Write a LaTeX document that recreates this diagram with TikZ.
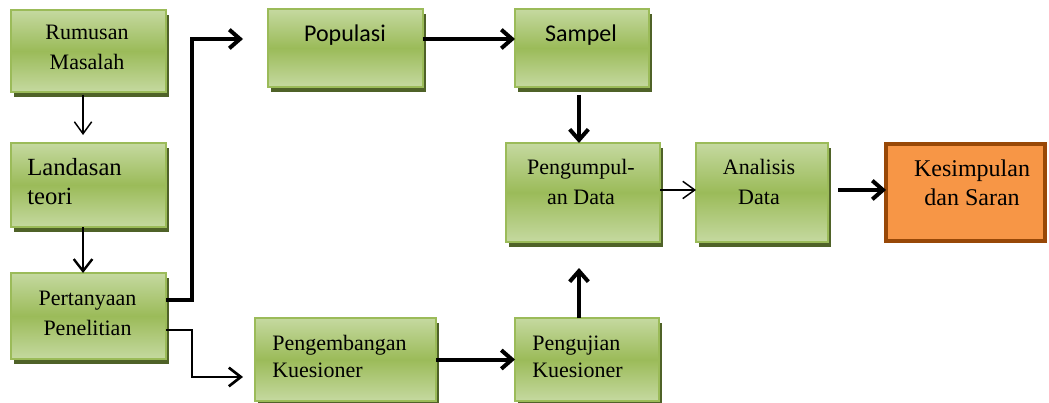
\documentclass[tikz,border=0pt]{standalone}
\usepackage{fontspec}
\setmainfont{Liberation Serif}
\newfontfamily\calfont{Carlito}
\usetikzlibrary{arrows.meta,shadows}
\definecolor{gl}{HTML}{C5D9A0}
\definecolor{gm}{HTML}{9BBB59}
\definecolor{gb}{HTML}{9BBB59}
\definecolor{gs}{HTML}{4F6228}
\definecolor{ofill}{HTML}{F79646}
\definecolor{obord}{HTML}{984807}
\tikzset{
  bx/.style 2 args={minimum width=#1*0.75pt, minimum height=#2*0.75pt},
  gbox/.style={draw=gb, line width=1.5pt, top color=gl, bottom color=gl, middle color=gm,
    inner sep=0pt, outer sep=0pt,
    drop shadow={shadow xshift=2pt, shadow yshift=-3.75pt, fill=gs, opacity=1}},
  obox/.style={draw=obord, fill=ofill, line width=3pt, inner sep=0pt, outer sep=0pt},
  txt/.style={inner sep=0pt, align=center, text=black},
  txtl/.style={inner sep=0pt, align=left, text=black, anchor=west},
  fs/.style={font=\fontsize{16.5pt}{22.5pt}\selectfont},
  thinarr/.style={line width=1.1pt, -{Straight Barb[length=9pt,width=13pt]}},
  medarr/.style={line width=1.8pt, -{Straight Barb[length=9pt,width=14pt]}},
  thickarr/.style={line width=3pt, -{Straight Barb[length=8pt,width=14pt]}},
}
\begin{document}
\begin{tikzpicture}[x=0.75pt,y=-0.75pt]
\useasboundingbox (0,0) rectangle (1049,403);
% boxes
\node[gbox, bx={155}{82}] (rm) at (88.5,51) {};
\node[gbox, bx={155}{84}] (lt) at (88.5,185) {};
\node[gbox, bx={155}{86}] (pp) at (88.5,316) {};
\node[gbox, bx={155}{78}] (po) at (345.5,48) {};
\node[gbox, bx={134}{78}] (sa) at (582,48) {};
\node[gbox, bx={154}{99}] (pd) at (583,192.5) {};
\node[gbox, bx={132}{99}] (an) at (762,192.5) {};
\node[obox, bx={159}{97}] (ks) at (965.5,192.5) {};
\node[gbox, bx={181}{83}] (pk) at (345.5,359.5) {};
\node[gbox, bx={144}{83}] (pj) at (587,359.5) {};
% texts
\node[txt, fs] (trm) at (87,47) {Rumusan\\Masalah};
\node[txtl, font=\fontsize{18.5pt}{21.75pt}\selectfont] (tlt) at (27,181.5) {Landasan\\teori};
\node[txt, fs] (tpp) at (87.5,313) {Pertanyaan\\Penelitian};
\node[txt, anchor=base, font=\calfont\fontsize{18pt}{22pt}\selectfont] (tpo) at (345,42) {Populasi};
\node[txt, anchor=base, font=\calfont\fontsize{18pt}{22pt}\selectfont] (tsa) at (581,42) {Sampel};
\node[txt, fs] (tpd) at (581,182) {Pengumpul-\\an Data};
\node[txt, fs] (tan) at (759,182) {Analisis\\Data};
\node[txt, font=\fontsize{18pt}{21.75pt}\selectfont] (tks) at (972,182.5) {Kesimpulan\\dan Saran};
\node[txtl, font=\fontsize{16.5pt}{20.25pt}\selectfont] (tpk) at (272,356.5) {Pengembangan\\Kuesioner};
\node[txtl, font=\fontsize{16.5pt}{20.25pt}\selectfont] (tpj) at (532,356.5) {Pengujian\\Kuesioner};
% connectors
\draw[thinarr, shorten <=2pt, shorten >=6pt] ([xshift=-4.1pt]rm.south) -- ([xshift=-4.1pt]lt.north);
\draw[medarr] ([xshift=-4.1pt]lt.south) -- ([xshift=-4.1pt]pp.north);
\draw[thickarr, shorten >=18.75pt] ([yshift=12pt]pp.east) -- ++(26,0) |- ([yshift=6.75pt]po.west);
\draw[line width=2pt, -{Straight Barb[length=9pt,width=14pt]}, shorten >=9pt] ([yshift=-10.5pt]pp.east) -- ++(26,0) |- ([yshift=-13.1pt]pk.west);
\draw[thickarr] ([yshift=6.75pt]po.east) -- ([yshift=6.75pt]sa.west);
\draw[thickarr, shorten <=6pt] ([xshift=-2.25pt]sa.south) -- ([xshift=-2.25pt]sa.south |- pd.north);
\draw[thinarr] ([yshift=1.9pt]pd.east) -- ([yshift=1.9pt]an.west);
\draw[thickarr, shorten <=7.5pt] ([yshift=1.9pt]an.east) -- ([yshift=1.9pt]ks.west);
\draw[thickarr] (pk.east) -- (pj.west);
\draw[thickarr, shorten >=19.5pt] ([xshift=-6pt]pj.north) -- ([xshift=-6pt]pj.north |- pd.south);
\end{tikzpicture}
\end{document}
